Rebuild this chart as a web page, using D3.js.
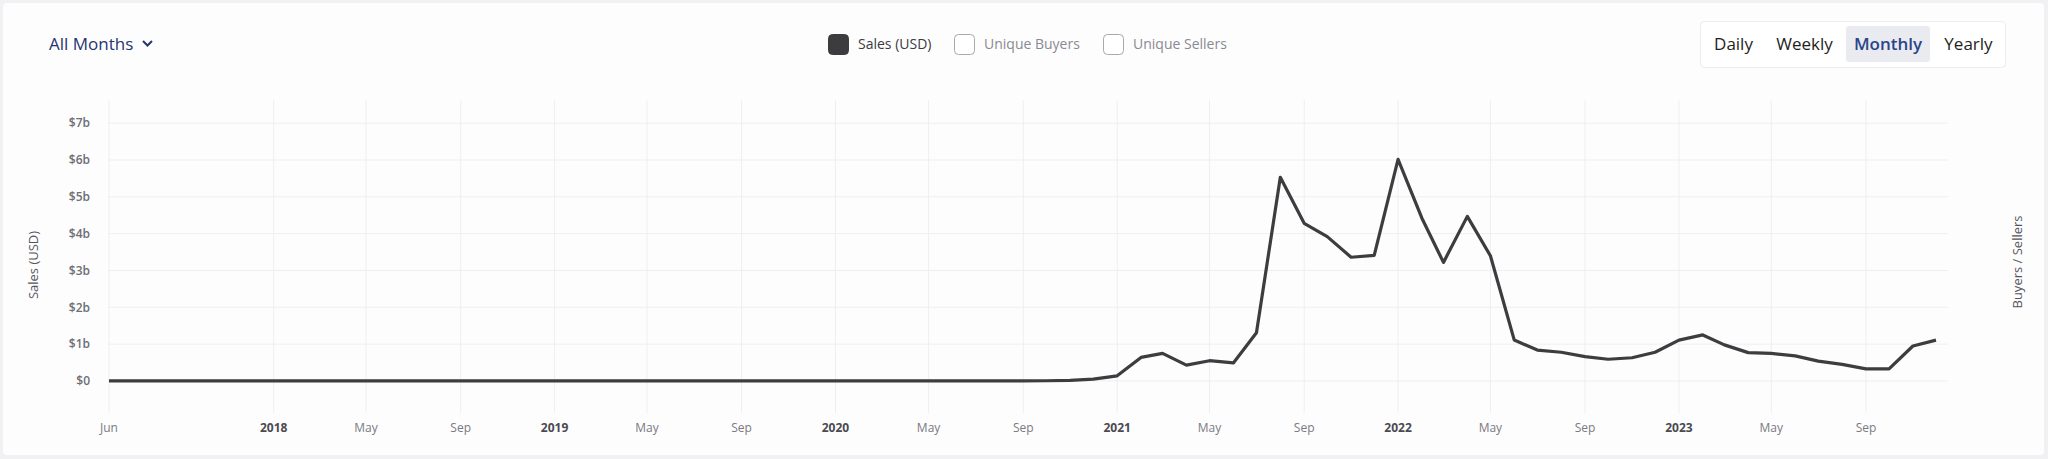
<!DOCTYPE html>
<html>
<head>
<meta charset="utf-8">
<script src="https://cdn.jsdelivr.net/npm/d3@7"></script>
<style>
  html, body { margin: 0; padding: 0; background: #f1f1f4; }
  svg { display: block; font-family: "Open Sans", sans-serif; }
</style>
</head>
<body>
<div id="chart"></div>
<script>
const width = 2048;
const height = 459;

// Monthly sales in billions USD, Jun 2017 .. Dec 2023
const firstMonth = new Date(2017, 5, 1);
const lastMonth = new Date(2023, 11, 1);
const sales = [
  0.0002, 0.0002, 0.0003, 0.0004, 0.0005, 0.0008, 0.001,                                    // 2017
  0.001, 0.001, 0.001, 0.001, 0.001, 0.001, 0.001, 0.001, 0.001, 0.001, 0.001, 0.001,        // 2018
  0.001, 0.001, 0.001, 0.001, 0.001, 0.001, 0.001, 0.001, 0.001, 0.001, 0.001, 0.001,        // 2019
  0.001, 0.001, 0.001, 0.001, 0.001, 0.001, 0.001, 0.002, 0.005, 0.006, 0.015, 0.05,         // 2020
  0.14, 0.64, 0.75, 0.43, 0.55, 0.49, 1.31, 5.53, 4.28, 3.92, 3.36, 3.41,                    // 2021
  6.02, 4.42, 3.22, 4.47, 3.40, 1.11, 0.84, 0.78, 0.66, 0.59, 0.63, 0.78,                    // 2022
  1.11, 1.25, 0.98, 0.77, 0.75, 0.68, 0.54, 0.45, 0.33, 0.33, 0.95, 1.11                     // 2023
];
const yTicks = [0, 1, 2, 3, 4, 5, 6, 7];
const legendItems = ['Sales (USD)', 'Unique Buyers', 'Unique Sellers'];
const periods = ['Daily', 'Weekly', 'Monthly', 'Yearly'];

const months = d3.timeMonth.range(firstMonth, d3.timeMonth.offset(lastMonth, 1));
const data = months.map((m, i) => ({ date: m, value: sales[i] }));

const svg = d3.select('#chart').append('svg')
  .attr('width', width)
  .attr('height', height);

// card
svg.append('rect')
  .attr('x', 3).attr('y', 3)
  .attr('width', 2041).attr('height', 452)
  .attr('rx', 4)
  .attr('fill', '#fdfdfe');

// scales
const x = d3.scaleTime()
  .domain([firstMonth, lastMonth])
  .range([109, 1936]);
const y = d3.scaleLinear()
  .domain([-0.87, 7.63])
  .range([413, 100]);

const plotLeft = 108, plotRight = 1948;

// horizontal grid + y labels
svg.append('g').selectAll('line')
  .data(yTicks).enter().append('line')
  .attr('x1', plotLeft).attr('x2', plotRight)
  .attr('y1', d => y(d)).attr('y2', d => y(d))
  .attr('stroke', '#efeff3').attr('stroke-width', 1);

svg.append('g').selectAll('text')
  .data(yTicks).enter().append('text')
  .attr('x', 90)
  .attr('y', d => y(d))
  .attr('dy', '0.35em')
  .attr('text-anchor', 'end')
  .attr('font-size', 12)
  .attr('font-weight', 600)
  .attr('fill', '#6e6e74')
  .text(d => d === 0 ? '$0' : '$' + d + 'b');

// x ticks: first month, then every 4 months from Jan 2018
const xTicks = [firstMonth].concat(d3.timeMonth.every(4).range(new Date(2018, 0, 1), lastMonth));

svg.append('g').selectAll('line')
  .data(xTicks).enter().append('line')
  .attr('x1', d => x(d)).attr('x2', d => x(d))
  .attr('y1', 100).attr('y2', 413)
  .attr('stroke', '#efeff3').attr('stroke-width', 1);

const fmtMonth = d3.timeFormat('%b');
const fmtYear = d3.timeFormat('%Y');
svg.append('g').selectAll('text')
  .data(xTicks).enter().append('text')
  .attr('x', d => x(d))
  .attr('y', 428)
  .attr('dy', '0.35em')
  .attr('text-anchor', 'middle')
  .attr('font-size', 12)
  .attr('font-weight', d => d.getMonth() === 0 ? 700 : 400)
  .attr('fill', d => d.getMonth() === 0 ? '#4a4a50' : '#7a7a80')
  .text(d => d.getMonth() === 0 ? fmtYear(d) : fmtMonth(d));

// axis titles
svg.append('text')
  .attr('transform', 'translate(33,265) rotate(-90)')
  .attr('text-anchor', 'middle')
  .attr('dy', '0.35em')
  .attr('font-size', 13)
  .attr('fill', '#55555b')
  .text('Sales (USD)');

svg.append('text')
  .attr('transform', 'translate(2017,262) rotate(-90)')
  .attr('text-anchor', 'middle')
  .attr('dy', '0.35em')
  .attr('font-size', 13)
  .attr('fill', '#55555b')
  .text('Buyers / Sellers');

// sales line
const line = d3.line()
  .x(d => x(d.date))
  .y(d => y(d.value));

svg.append('path')
  .datum(data)
  .attr('d', line)
  .attr('fill', 'none')
  .attr('stroke', '#3d3d40')
  .attr('stroke-width', 3.2)
  .attr('stroke-linejoin', 'round');

// "All Months" dropdown
svg.append('text')
  .attr('x', 49).attr('y', 44)
  .attr('dy', '0.35em')
  .attr('font-size', 17)
  .attr('fill', '#26356e')
  .text('All Months');
svg.append('path')
  .attr('d', 'M143,41 L147.5,45.5 L152,41')
  .attr('fill', 'none')
  .attr('stroke', '#26356e')
  .attr('stroke-width', 2);

// legend
const legendX = [828, 954, 1103];
const legend = svg.append('g').selectAll('g')
  .data(legendItems).enter().append('g')
  .attr('transform', (d, i) => `translate(${legendX[i]},34)`);
legend.append('rect')
  .attr('x', 0.5).attr('y', 0.5)
  .attr('width', 20).attr('height', 20)
  .attr('rx', 4)
  .attr('fill', (d, i) => i === 0 ? '#3c3c3f' : '#ffffff')
  .attr('stroke', (d, i) => i === 0 ? '#3c3c3f' : '#a8a8ae')
  .attr('stroke-width', 1);
legend.append('text')
  .attr('x', 30).attr('y', 10.5)
  .attr('dy', '0.35em')
  .attr('font-size', 14)
  .attr('fill', (d, i) => i === 0 ? '#3a3a3f' : '#8a8a90')
  .text(d => d);

// period buttons
svg.append('rect')
  .attr('x', 1700.5).attr('y', 21.5)
  .attr('width', 305).attr('height', 46)
  .attr('rx', 4)
  .attr('fill', '#ffffff')
  .attr('stroke', '#ececf1');
svg.append('rect')
  .attr('x', 1846).attr('y', 26)
  .attr('width', 84).attr('height', 36)
  .attr('rx', 3)
  .attr('fill', '#e9ebf1');
const periodX = [1733.5, 1804.5, 1888, 1968.5];
svg.append('g').selectAll('text')
  .data(periods).enter().append('text')
  .attr('x', (d, i) => periodX[i])
  .attr('y', 44)
  .attr('dy', '0.35em')
  .attr('text-anchor', 'middle')
  .attr('font-size', 17)
  .attr('font-weight', (d, i) => i === 2 ? 600 : 500)
  .attr('fill', (d, i) => i === 2 ? '#2b4587' : '#1e1e22')
  .text(d => d);
</script>
</body>
</html>
